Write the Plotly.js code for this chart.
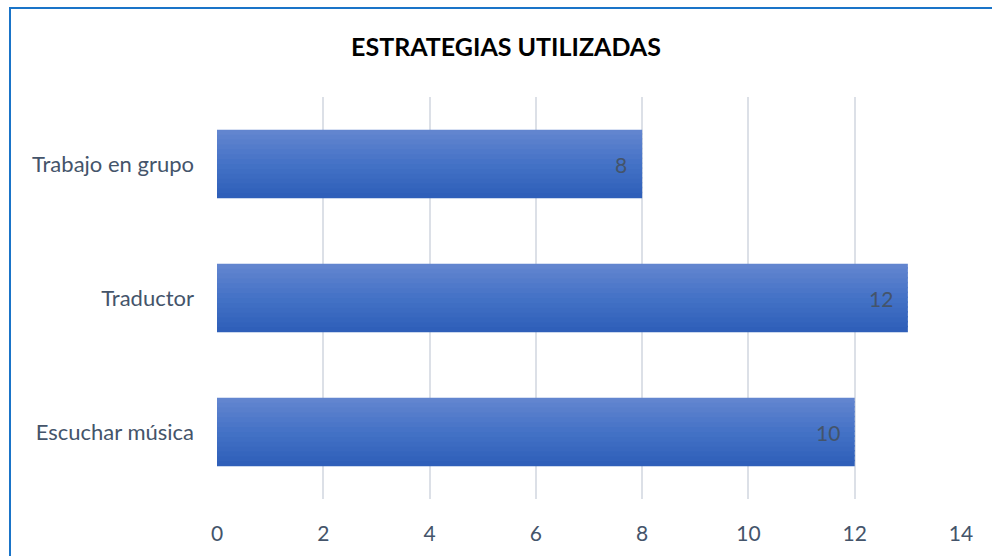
<!DOCTYPE html>
<html>
<head>
<meta charset="utf-8">
<script src="https://cdn.plot.ly/plotly-3.0.1.min.js"></script>
<style>
  html, body { margin: 0; padding: 0; background: #ffffff; width: 992px; height: 556px; overflow: hidden; }
  #frame { position: absolute; left: 9px; top: 7px; width: 1000px; height: 600px; border-left: 2px solid #1a74c8; border-top: 2px solid #1a74c8; box-sizing: border-box; }
  #chart { position: absolute; left: 0; top: 0; width: 992px; height: 556px; }
</style>
</head>
<body>
<div id="frame"></div>
<div id="chart"></div>
<script>
// Data
const categories = ["Escuchar música", "Traductor", "Trabajo en grupo"];
const barValues = [12, 13, 8];
const barLabels = ["10", "12", "8"];
const xTicks = [0, 2, 4, 6, 8, 10, 12, 14];
const chartTitle = "ESTRATEGIAS UTILIZADAS";

// Gradient emulation: stacked stripes overlaid on each bar
const N = 14;
const W = 0.51;
const topColor = [0x64, 0x86, 0xd0];
const midColor = [0x44, 0x72, 0xc6];
const botColor = [0x2d, 0x5d, 0xb8];
function mix(a, b, t) {
  return 'rgb(' + a.map((v, k) => Math.round(v + (b[k] - v) * t)).join(',') + ')';
}
const traces = [];
for (let i = 0; i < N; i++) {
  const t = (i + 0.5) / N; // 0 bottom -> 1 top
  const col = t < 0.5 ? mix(botColor, midColor, t / 0.5) : mix(midColor, topColor, (t - 0.5) / 0.5);
  const last = (i === N - 1);
  traces.push({
    type: 'bar',
    orientation: 'h',
    y: categories,
    x: barValues,
    width: last ? W / N : W / N + 0.012,
    offset: -W / 2 + i * W / N,
    marker: { color: col, line: { width: 0 } },
    hoverinfo: 'skip',
    showlegend: false
  });
}

const annotations = categories.map((c, i) => ({
  x: barValues[i], y: c, xref: 'x', yref: 'y',
  text: barLabels[i], showarrow: false,
  xanchor: 'right', xshift: -13,
  font: { family: 'Lato, sans-serif', size: 21, color: '#44546a' }
}));

const layout = {
  width: 992, height: 556,
  paper_bgcolor: 'rgba(0,0,0,0)',
  plot_bgcolor: 'rgba(0,0,0,0)',
  margin: { l: 217, r: 31, t: 97, b: 57 },
  barmode: 'overlay',
  title: {
    text: '<b>' + chartTitle + '</b>',
    xref: 'paper', xanchor: 'center',
    yref: 'container', yanchor: 'middle',
    font: { family: 'Lato, sans-serif', size: 25, color: '#000000' }
  },
  xaxis: {
    range: [0, 14],
    tickvals: xTicks,
    ticktext: xTicks.map(String),
    showgrid: true, gridcolor: '#dce0e7', gridwidth: 2,
    zeroline: false, showline: false,
    ticks: '', ticklabelstandoff: 20,
    tickfont: { family: 'Lato, sans-serif', size: 21, color: '#44546a' },
    fixedrange: true
  },
  yaxis: {
    type: 'category',
    categoryorder: 'array', categoryarray: categories,
    range: [-0.5, 2.5],
    showgrid: false, zeroline: false, showline: false,
    ticks: '', ticklabelstandoff: 22,
    tickfont: { family: 'Lato, sans-serif', size: 22, color: '#44546a' },
    fixedrange: true
  },
  annotations: annotations,
  hovermode: false
};
// Title position in reference pixels
layout.title.x = (506 - 217) / (992 - 217 - 31);
layout.title.y = 1 - 47 / 556;

Plotly.newPlot('chart', traces, layout, { displayModeBar: false, staticPlot: true });
</script>
</body>
</html>
